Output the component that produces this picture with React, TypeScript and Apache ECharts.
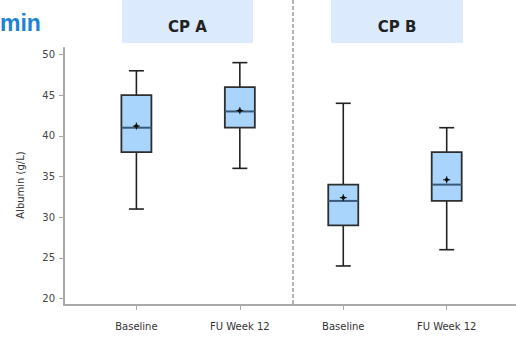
import React, { useEffect, useRef } from "react";
import * as echarts from "echarts";

// Categories and groups
const groups = ["CP A", "CP B"];
const categories = ["Baseline", "FU Week 12", "Baseline", "FU Week 12"];
const positions = [1, 2, 3, 4];
// Box statistics (g/L)
const mins = [31, 36, 24, 26];
const q1s = [38, 41, 29, 32];
const medians = [41, 43, 32, 34];
const q3s = [45, 46, 34, 38];
const maxs = [48, 49, 44, 41];
const means = [41.2, 43.1, 32.4, 34.6];
const yTicks = [20, 25, 30, 35, 40, 45, 50];

export default function App() {
  const ref = useRef<HTMLDivElement>(null);
  useEffect(() => {
    if (!ref.current) return;
    const chart = echarts.init(ref.current, undefined, { renderer: "svg" });
    const data = positions.map((p, i) => [p, mins[i], q1s[i], medians[i], q3s[i], maxs[i], means[i]]);
    const font = "DejaVu Sans, Verdana, sans-serif";
    const titleFont = "Liberation Sans, Arial, sans-serif";
    chart.setOption({
      animation: false,
      grid: { left: 64, right: 0, top: 48, bottom: 33, containLabel: false },
      xAxis: {
        type: "value",
        min: 0.3,
        max: 4.67,
        axisLine: { show: true, lineStyle: { color: "#a8a8a8", width: 2 } },
        axisTick: { show: true, length: 5, customValues: positions, lineStyle: { color: "#a8a8a8" } },
        axisLabel: {
          customValues: positions,
          formatter: (v: number) => categories[positions.indexOf(v)] ?? "",
          margin: 16,
          fontSize: 10,
          color: "#333",
          fontFamily: font,
        },
        splitLine: { show: false },
      },
      yAxis: {
        type: "value",
        min: 19.2,
        max: 50.8,
        axisLine: { show: true, lineStyle: { color: "#a8a8a8", width: 2 } },
        axisTick: { show: true, length: 5, customValues: yTicks, lineStyle: { color: "#a8a8a8" } },
        axisLabel: { customValues: yTicks, fontSize: 10, color: "#444", margin: 9, fontFamily: font },
        splitLine: { show: false },
      },
      series: [
        {
          type: "custom",
          data,
          encode: { x: 0, y: [1, 2, 3, 4, 5] },
          renderItem: (params: any, api: any) => {
            const x = api.value(0);
            const pMin = api.coord([x, api.value(1)]);
            const pQ1 = api.coord([x, api.value(2)]);
            const pMed = api.coord([x, api.value(3)]);
            const pQ3 = api.coord([x, api.value(4)]);
            const pMax = api.coord([x, api.value(5)]);
            const pMean = api.coord([x, api.value(6)]);
            const cx = pMin[0];
            const bw = 30;
            const cw = 15;
            const line = { stroke: "#222", lineWidth: 1.6 };
            return {
              type: "group",
              children: [
                { type: "line", shape: { x1: cx, y1: pMax[1], x2: cx, y2: pQ3[1] }, style: line },
                { type: "line", shape: { x1: cx, y1: pQ1[1], x2: cx, y2: pMin[1] }, style: line },
                { type: "line", shape: { x1: cx - cw / 2, y1: pMax[1], x2: cx + cw / 2, y2: pMax[1] }, style: line },
                { type: "line", shape: { x1: cx - cw / 2, y1: pMin[1], x2: cx + cw / 2, y2: pMin[1] }, style: line },
                {
                  type: "rect",
                  shape: { x: cx - bw / 2, y: pQ3[1], width: bw, height: pQ1[1] - pQ3[1] },
                  style: { fill: "#a9d5fd", stroke: "#2e2e2e", lineWidth: 1.8 },
                },
                {
                  type: "line",
                  shape: { x1: cx - bw / 2, y1: pMed[1], x2: cx + bw / 2, y2: pMed[1] },
                  style: { stroke: "#3a5878", lineWidth: 2 },
                },
                {
                  type: "polygon",
                  shape: {
                    points: [
                      [cx, pMean[1] - 2.5],
                      [cx + 2.5, pMean[1]],
                      [cx, pMean[1] + 2.5],
                      [cx - 2.5, pMean[1]],
                    ],
                  },
                  style: { fill: "#111" },
                },
                { type: "line", shape: { x1: cx - 3.5, y1: pMean[1], x2: cx + 3.5, y2: pMean[1] }, style: { stroke: "#111", lineWidth: 1 } },
                { type: "line", shape: { x1: cx, y1: pMean[1] - 3.5, x2: cx, y2: pMean[1] + 3.5 }, style: { stroke: "#111", lineWidth: 1 } },
              ],
            };
          },
        },
      ],
      graphic: [
        {
          type: "text",
          left: 0,
          top: 11,
          style: { text: "min", fontSize: 23, fontWeight: "bold", fill: "#1c83d4", fontFamily: titleFont },
        },
        {
          type: "text",
          x: 20,
          y: 185,
          rotation: Math.PI / 2,
          style: { text: "Albumin (g/L)", fontSize: 10, fill: "#333", align: "center", verticalAlign: "middle", fontFamily: font },
        },
        { type: "rect", shape: { x: 122, y: 0, width: 131, height: 43 }, style: { fill: "#dbeafc" } },
        { type: "rect", shape: { x: 331, y: 0, width: 132, height: 43 }, style: { fill: "#dbeafc" } },
        {
          type: "text",
          x: 187.5,
          y: 27,
          style: { text: groups[0], fontSize: 15, fontWeight: "bold", fill: "#222", align: "center", verticalAlign: "middle", fontFamily: font },
        },
        {
          type: "text",
          x: 397,
          y: 27,
          style: { text: groups[1], fontSize: 15, fontWeight: "bold", fill: "#222", align: "center", verticalAlign: "middle", fontFamily: font },
        },
        {
          type: "line",
          shape: { x1: 293, y1: 0, x2: 293, y2: 304 },
          style: { stroke: "#b5b5b5", lineWidth: 2, lineDash: [4, 2] },
        },
      ],
    });
    return () => chart.dispose();
  }, []);
  return <div ref={ref} style={{ position: "absolute", left: 0, top: 0, width: 516, height: 338 }} />;
}
